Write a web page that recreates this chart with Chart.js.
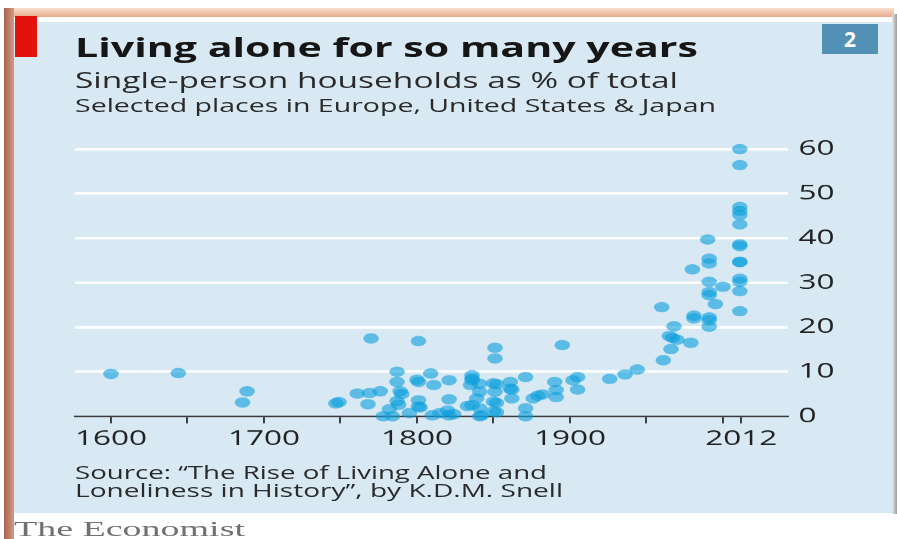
<!DOCTYPE html>
<html>
<head>
<meta charset="utf-8">
<script src="https://cdn.jsdelivr.net/npm/chart.js@4.4.1/dist/chart.umd.min.js"></script>
<style>
  html, body { margin: 0; padding: 0; background: #fff; width: 897px; height: 539px; overflow: hidden; }
  body { position: relative; font-family: 'Open Sans', sans-serif; }
  .abs { position: absolute; }
  .txt { position: absolute; white-space: nowrap; line-height: 1; transform-origin: 0 0; }
  #frameTop { left: 5px; top: 8px; width: 889px; height: 9px; background: linear-gradient(to bottom, #f9e0d0, #eaa98a); }
  #frameLeft { left: 4px; top: 8px; width: 10px; height: 531px; background: linear-gradient(to right, #a8634f, #d49a85); }
  #frameRight { left: 892px; top: 14px; width: 5px; height: 500px; background: linear-gradient(to right, #e8e8e8, #9c9c9c); }
  #panel { left: 14px; top: 22px; width: 879px; height: 491px; background: #d8e9f4; }
  #redTag { left: 15px; top: 16px; width: 22px; height: 41px; background: #e3120b; }
  #badge { left: 822px; top: 24px; width: 56px; height: 30px; background: #5290b6; color: #fff;
           font: bold 21px 'Open Sans', sans-serif; display: flex; align-items: center; justify-content: center; }
  #title { left: 75px; top: 33px; font-size: 27px; font-weight: 700; color: #161616; }
  #sub1 { left: 75px; top: 70px; font-size: 21px; color: #2a2a2a; }
  #sub2 { left: 75px; top: 96px; font-size: 18px; color: #2a2a2a; }
  #src1 { left: 75px; top: 463px; font-size: 18px; color: #2a2a2a; }
  #src2 { left: 75px; top: 481px; font-size: 18px; color: #2a2a2a; }
  #brand { left: 14px; top: 519px; font-family: 'Liberation Serif', serif; font-size: 21px; color: #707070; }
  #plot { position: absolute; left: 0; top: 0; width: 598px; height: 539px; transform: scaleX(1.5); transform-origin: 0 0; }
</style>
</head>
<body>
<div class="abs" id="frameTop"></div>
<div class="abs" id="frameLeft"></div>
<div class="abs" id="frameRight"></div>
<div class="abs" id="panel"></div>
<div class="abs" id="redTag"></div>
<div class="abs" id="badge">2</div>

<div id="plot"><canvas id="chart"></canvas></div>

<div class="txt" id="title" data-w="623">Living alone for so many years</div>
<div class="txt" id="sub1" data-w="603">Single-person households as % of total</div>
<div class="txt" id="sub2" data-w="641">Selected places in Europe, United States &amp; Japan</div>
<div class="txt" id="src1" data-w="472">Source: “The Rise of Living Alone and</div>
<div class="txt" id="src2" data-w="488">Loneliness in History”, by K.D.M. Snell</div>
<div class="txt" id="brand" data-w="231">The Economist</div>

<script>
// Year of each observation and the single-person share of households (%)
const years = [
  1600, 1644, 1686, 1689, 1747, 1749, 1761, 1768, 1769, 1770,
  1776, 1778, 1782, 1784, 1787, 1787, 1787, 1788, 1789, 1790,
  1795, 1801, 1800, 1801, 1801, 1801, 1802, 1809, 1811, 1810,
  1815, 1821, 1821, 1820, 1821, 1824, 1833, 1836, 1836, 1836,
  1835, 1839, 1836, 1841, 1841, 1841, 1841, 1842, 1851, 1851,
  1850, 1852, 1851, 1850, 1852, 1850, 1852, 1861, 1861, 1862,
  1862, 1871, 1871, 1871, 1876, 1879, 1882, 1890, 1891, 1891,
  1895, 1902, 1905, 1905, 1926, 1936, 1944, 1960, 1961, 1966,
  1965, 1968, 1970, 1967, 1979, 1980, 1981, 1981, 1990, 1991,
  1991, 1991, 1991, 1991, 1995, 1991, 1991, 1991, 2000, 2011,
  2011, 2011, 2011, 2011, 2011, 2011, 2011, 2011, 2011, 2011,
  2011, 2011, 2011
];
const shares = [
  9.5, 9.7, 3.1, 5.6, 2.9, 3.2, 5.1, 2.7, 5.2, 17.5,
  5.6, 0.0, 1.6, 0.0, 10.0, 7.7, 3.4, 2.6, 5.6, 5.0,
  0.7, 16.9, 8.2, 7.7, 3.6, 2.2, 2.0, 9.6, 7.0, 0.2,
  0.7, 8.1, 3.8, 1.3, 0.2, 0.5, 2.3, 9.2, 8.5, 8.1,
  7.0, 4.0, 2.5, 7.3, 5.5, 1.8, 0.0, 0.2, 15.4, 13.0,
  7.4, 7.2, 5.5, 3.3, 3.0, 1.1, 0.9, 7.7, 6.2, 6.0,
  4.0, 8.8, 1.8, 0.0, 4.0, 4.6, 4.9, 7.7, 5.9, 4.3,
  16.0, 8.1, 8.8, 6.0, 8.4, 9.4, 10.5, 24.5, 12.6, 15.1,
  18.0, 20.2, 17.2, 17.6, 16.5, 33.0, 22.6, 22.0, 39.7, 35.4,
  34.3, 30.2, 27.9, 27.2, 25.2, 22.2, 21.6, 20.1, 29.1, 60.0,
  56.4, 47.0, 46.1, 45.2, 43.1, 38.6, 38.2, 34.6, 34.7, 30.9,
  30.2, 28.1, 23.6
];

// Axis ticks
const tickYears = [1600, 1650, 1700, 1750, 1800, 1850, 1900, 1950, 2000, 2012];
const labelYears = [1600, 1700, 1800, 1900, 2012];
const shareTicks = [0, 10, 20, 30, 40, 50, 60];

// The artwork is set wide: the plot is drawn narrow and stretched horizontally
const STRETCH = 1.5;

function fitText() {
  document.querySelectorAll('.txt').forEach(el => {
    const target = parseFloat(el.dataset.w);
    const natural = el.getBoundingClientRect().width;
    el.style.transform = 'scaleX(' + (target / natural) + ')';
  });
}

function drawChart() {
  const points = years.map((y, i) => ({ x: y, y: shares[i] }));
  const plotW = 897 / STRETCH;
  const yAxisW = 40, xAxisH = 40;
  const areaLeft = 75 / STRETCH, areaRight = 788 / STRETCH;
  const areaTop = 149, areaBottom = 416;

  new Chart(document.getElementById('chart'), {
    type: 'scatter',
    data: {
      datasets: [{
        data: points,
        backgroundColor: 'rgba(12,159,220,0.6)',
        borderWidth: 0,
        pointRadius: 5.2,
        pointHoverRadius: 5.2,
        clip: false
      }]
    },
    options: {
      responsive: true,
      maintainAspectRatio: false,
      devicePixelRatio: STRETCH,
      animation: false,
      events: [],
      layout: {
        padding: {
          left: areaLeft,
          right: plotW - areaRight - yAxisW,
          top: areaTop,
          bottom: 539 - areaBottom - xAxisH
        }
      },
      plugins: { legend: { display: false }, tooltip: { enabled: false }, title: { display: false } },
      scales: {
        x: {
          type: 'linear',
          min: 1576.5,
          max: 2042.5,
          afterFit(scale) { scale.height = xAxisH; },
          afterBuildTicks(scale) { scale.ticks = tickYears.map(v => ({ value: v })); },
          grid: { display: true, drawOnChartArea: false, drawTicks: true, tickLength: 7, color: '#3a3a3a', lineWidth: 1.3 },
          border: { display: true, color: '#3a3a3a', width: 1.5 },
          ticks: {
            autoSkip: false, maxRotation: 0, padding: 3, color: '#222',
            font: { family: 'Open Sans', size: 21 },
            callback: v => labelYears.includes(v) ? String(v) : ''
          }
        },
        y: {
          position: 'right',
          min: 0,
          max: 60,
          afterFit(scale) { scale.width = yAxisW; },
          afterBuildTicks(scale) { scale.ticks = shareTicks.map(v => ({ value: v })); },
          grid: {
            drawTicks: false,
            lineWidth: 2.5,
            color: ctx => ctx.tick && ctx.tick.value === 0 ? 'rgba(0,0,0,0)' : '#ffffff'
          },
          border: { display: false },
          ticks: { padding: 7, color: '#222', font: { family: 'Open Sans', size: 21 } }
        }
      }
    }
  });
}

document.fonts.ready.then(() => {
  fitText();
  drawChart();
});
</script>
</body>
</html>
